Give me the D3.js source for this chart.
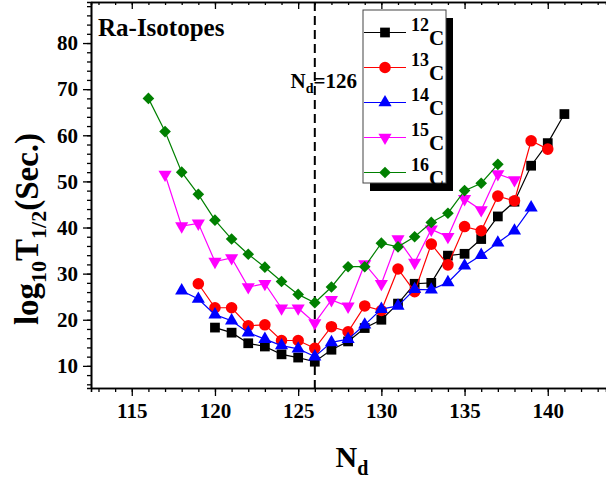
<!DOCTYPE html>
<html>
<head>
<meta charset="utf-8">
<script src="https://cdn.jsdelivr.net/npm/d3@7"></script>
<style>
  body { margin: 0; background: #fff; }
  svg { display: block; font-family: "Liberation Serif", "Times New Roman", serif; font-weight: bold; }
</style>
</head>
<body>
<div id="chart"></div>
<script>
// neutron number of daughter, log10 T1/2 for each emitted cluster
const c12N = d3.range(120, 142);
const c12 = [18.3, 17.2, 14.9, 14.2, 12.5, 11.8, 10.9, 13.5, 15.3, 18.2, 20.0, 23.5, 27.8, 28.0, 33.9, 34.3, 37.5, 42.4, 45.6, 53.4, 58.3, 64.6];
const c13N = d3.range(119, 141);
const c13 = [27.8, 22.6, 22.6, 18.7, 18.9, 15.5, 15.5, 13.8, 18.5, 17.4, 23.0, 22.0, 31.0, 26.1, 36.4, 31.9, 40.2, 39.3, 46.8, 45.8, 58.8, 57.0];
const c14N = d3.range(118, 140);
const c14 = [26.3, 24.5, 21.1, 19.8, 17.2, 15.8, 14.4, 13.7, 12.0, 15.1, 15.8, 18.9, 22.3, 23.0, 26.6, 26.5, 28.1, 31.7, 34.0, 36.7, 39.3, 44.3];
const c15N = d3.range(117, 139);
const c15 = [51.5, 40.3, 40.9, 32.6, 33.4, 27.1, 27.8, 22.5, 22.5, 19.3, 24.3, 22.9, 32.1, 27.8, 37.5, 32.4, 39.6, 38.0, 46.2, 43.8, 51.6, 50.3];
const c16N = d3.range(116, 138);
const c16 = [68.0, 60.8, 52.0, 47.2, 41.6, 37.5, 34.2, 31.4, 28.3, 25.5, 23.7, 27.1, 31.5, 31.5, 36.6, 35.8, 38.0, 41.1, 43.1, 48.0, 49.6, 53.7];

const xTicks = [115, 120, 125, 130, 135, 140];
const yTicks = [10, 20, 30, 40, 50, 60, 70, 80];
const magic = 126;

const series = [
  { mass: "12", xs: c12N, ys: c12, color: "#000000", shape: d3.symbolSquare, size: 95, rot: 0 },
  { mass: "13", xs: c13N, ys: c13, color: "#ff0000", shape: d3.symbolCircle, size: 105, rot: 0 },
  { mass: "14", xs: c14N, ys: c14, color: "#0000ff", shape: d3.symbolTriangle, size: 75, rot: 0 },
  { mass: "15", xs: c15N, ys: c15, color: "#ff00ff", shape: d3.symbolTriangle, size: 75, rot: 180 },
  { mass: "16", xs: c16N, ys: c16, color: "#008000", shape: d3.symbolSquare, size: 68, rot: 45 }
];

const width = 606, height = 482;
const margin = { top: 2, right: 0, bottom: 94, left: 91 };

const x = d3.scaleLinear().domain([112.55, 143.5]).range([margin.left, width - margin.right]);
const y = d3.scaleLinear().domain([5.2, 88.9]).range([height - margin.bottom, margin.top]);

const svg = d3.select("#chart").append("svg")
  .attr("width", width)
  .attr("height", height);

// dashed line at the shell closure
svg.append("line")
  .attr("x1", x(magic)).attr("x2", x(magic))
  .attr("y1", y.range()[1]).attr("y2", y.range()[0])
  .attr("stroke", "#000").attr("stroke-width", 2)
  .attr("stroke-dasharray", "9,5");

// axes
const bottom = height - margin.bottom;
const minorX = d3.range(113, 144);
const minorY = d3.range(6, 89, 2);

svg.append("g")
  .attr("transform", `translate(0,${bottom})`)
  .call(d3.axisBottom(x).tickValues(minorX).tickSize(4).tickFormat(""));
const gx = svg.append("g")
  .attr("transform", `translate(0,${bottom})`)
  .call(d3.axisBottom(x).tickValues(xTicks).tickSize(8).tickPadding(7).tickSizeOuter(0));

svg.append("g")
  .attr("transform", `translate(0,${margin.top})`)
  .call(d3.axisBottom(x).tickValues(minorX).tickSize(3).tickFormat(""));
svg.append("g")
  .attr("transform", `translate(0,${margin.top})`)
  .call(d3.axisBottom(x).tickValues(xTicks).tickSize(7).tickFormat("").tickSizeOuter(0));

svg.append("g")
  .attr("transform", `translate(${margin.left},0)`)
  .call(d3.axisLeft(y).tickValues(minorY).tickSize(4).tickFormat(""));
const gy = svg.append("g")
  .attr("transform", `translate(${margin.left},0)`)
  .call(d3.axisLeft(y).tickValues(yTicks).tickSize(8).tickPadding(5).tickSizeOuter(0));

svg.selectAll(".domain").attr("stroke-width", 1.6);
svg.selectAll(".tick line").attr("stroke-width", 1.3);
gx.selectAll("text").attr("font-size", 21).attr("font-family", "Liberation Serif").attr("font-weight", "bold");
gy.selectAll("text").attr("font-size", 21).attr("font-family", "Liberation Serif").attr("font-weight", "bold");

// series
series.forEach(s => {
  const pts = s.xs.map((n, i) => [n, s.ys[i]]);
  svg.append("path")
    .datum(pts)
    .attr("fill", "none")
    .attr("stroke", s.color)
    .attr("stroke-width", 1.2)
    .attr("d", d3.line().x(d => x(d[0])).y(d => y(d[1])));
  svg.append("g").selectAll("path")
    .data(pts)
    .enter().append("path")
    .attr("transform", d => `translate(${x(d[0])},${y(d[1])}) rotate(${s.rot})`)
    .attr("d", d3.symbol().type(s.shape).size(s.size))
    .attr("fill", s.color);
});

// legend with drop shadow
const lg = { x: 363, y: 10, w: 83, h: 173 };
svg.append("rect")
  .attr("x", lg.x + 7).attr("y", lg.y + 8)
  .attr("width", lg.w).attr("height", lg.h)
  .attr("fill", "#000");
svg.append("rect")
  .attr("x", lg.x).attr("y", lg.y)
  .attr("width", lg.w).attr("height", lg.h)
  .attr("fill", "#fff").attr("stroke", "#444").attr("stroke-width", 1);

series.forEach((s, i) => {
  const ry = lg.y + 22.5 + i * 35;
  svg.append("line")
    .attr("x1", lg.x + 1).attr("x2", lg.x + 43)
    .attr("y1", ry).attr("y2", ry)
    .attr("stroke", s.color).attr("stroke-width", 1.2);
  svg.append("path")
    .attr("transform", `translate(${lg.x + 22},${ry}) rotate(${s.rot})`)
    .attr("d", d3.symbol().type(s.shape).size(s.size))
    .attr("fill", s.color);
  const t = svg.append("text")
    .attr("x", lg.x + 48).attr("y", ry - 2);
  t.append("tspan").attr("font-size", 18).text(s.mass);
  t.append("tspan").attr("font-size", 21).attr("dy", 14).text("C");
});

// annotations
svg.append("text")
  .attr("x", 98).attr("y", 36)
  .attr("font-size", 25)
  .text("Ra-Isotopes");

const nd = svg.append("text")
  .attr("x", 357).attr("y", 88)
  .attr("text-anchor", "end")
  .attr("font-size", 21);
nd.append("tspan").text("N");
nd.append("tspan").attr("font-size", 14).attr("dy", 5).text("d");
nd.append("tspan").attr("dy", -5).text("=126");

// axis titles
const xt = svg.append("text")
  .attr("x", 352).attr("y", 467)
  .attr("text-anchor", "middle")
  .attr("font-size", 30);
xt.append("tspan").text("N");
xt.append("tspan").attr("font-size", 20).attr("dy", 8).text("d");

const yt = svg.append("text")
  .attr("transform", "translate(38,229) rotate(-90)")
  .attr("text-anchor", "middle")
  .attr("font-size", 33);
yt.append("tspan").text("log");
yt.append("tspan").attr("font-size", 22).attr("dy", 8).text("10");
yt.append("tspan").attr("dy", -8).text("T");
yt.append("tspan").attr("font-size", 22).attr("dy", 8).text("1/2");
yt.append("tspan").attr("dy", -8).text("(Sec.)");
</script>
</body>
</html>
